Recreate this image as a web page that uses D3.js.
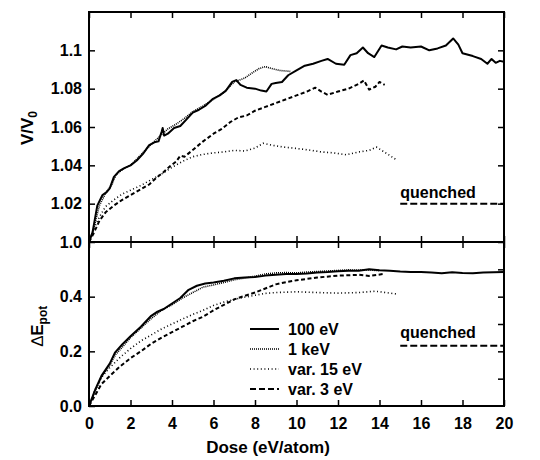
<!DOCTYPE html>
<html lang="en">
<head>
    <meta charset="UTF-8">
    <title>V/V0 and Delta E_pot vs dose</title>
    <script src="https://d3js.org/d3.v7.min.js"></script>
    <style>
        body { margin: 0; background: #fff; }
        text { font-family: "Liberation Sans", Arial, sans-serif; font-weight: bold; fill: #000; }
    </style>
</head>
<body>
    <svg width="540" height="460"></svg>

    <script>
        // ---- data (dose in eV/atom) ----
        // top panel: V/V0
        const vol100eV = [[0,1.0],[0.17,1.005],[0.4,1.019],[0.65,1.0245],[0.85,1.026],[1.0,1.028],[1.2,1.034],[1.45,1.037],[1.7,1.0385],[2.0,1.040],[2.3,1.0425],[2.6,1.046],[2.9,1.0505],[3.15,1.052],[3.35,1.0525],[3.5,1.0575],[3.55,1.0595],[3.62,1.0555],[3.8,1.0565],[4.1,1.0595],[4.4,1.0605],[4.7,1.064],[5.0,1.0675],[5.3,1.069],[5.6,1.071],[5.95,1.0745],[6.3,1.0765],[6.6,1.079],[6.9,1.0835],[7.1,1.0845],[7.3,1.082],[7.6,1.0805],[8.0,1.080],[8.3,1.079],[8.55,1.0785],[8.8,1.0825],[9.0,1.083],[9.3,1.0835],[9.6,1.087],[10.0,1.0895],[10.4,1.092],[10.8,1.093],[11.2,1.0945],[11.5,1.0955],[11.9,1.093],[12.3,1.0925],[12.6,1.0975],[12.9,1.0985],[13.2,1.1015],[13.45,1.0985],[13.75,1.0965],[14.1,1.1025],[14.4,1.1015],[14.8,1.1005],[15.1,1.102],[15.5,1.1015],[16.0,1.102],[16.4,1.1],[16.8,1.101],[17.2,1.1025],[17.55,1.1062],[17.8,1.103],[18.0,1.0985],[18.5,1.097],[18.9,1.0955],[19.2,1.093],[19.4,1.0955],[19.6,1.0935],[19.8,1.0945],[20,1.094]];
        const vol1keV = [[0,1.0],[0.2,1.006],[0.5,1.019],[0.8,1.0255],[1.1,1.030],[1.3,1.035],[1.7,1.0385],[2.0,1.040],[2.5,1.0455],[3.0,1.051],[3.4,1.055],[3.8,1.059],[4.2,1.0615],[4.6,1.0645],[5.0,1.068],[5.5,1.071],[6.0,1.0745],[6.5,1.078],[7.0,1.0835],[7.5,1.0855],[7.9,1.0885],[8.2,1.0905],[8.5,1.0915],[8.8,1.0905],[9.2,1.0895],[9.7,1.089]];
        const volVar15 = [[0,1.0],[0.2,1.006],[0.5,1.013],[0.8,1.0185],[1.2,1.022],[1.6,1.025],[2.0,1.027],[2.5,1.0295],[3.0,1.0325],[3.5,1.0355],[4.0,1.039],[4.5,1.042],[5.0,1.0445],[5.5,1.0457],[6.0,1.0465],[6.5,1.047],[7.0,1.0478],[7.5,1.0475],[8.0,1.049],[8.4,1.0515],[8.8,1.0505],[9.4,1.0495],[10.0,1.0488],[10.6,1.048],[11.2,1.047],[11.8,1.0465],[12.4,1.0455],[13.0,1.047],[13.5,1.0478],[13.85,1.0495],[14.3,1.0465],[14.8,1.043]];
        const volVar3 = [[0,1.0],[0.2,1.004],[0.5,1.011],[0.8,1.0155],[1.2,1.019],[1.6,1.022],[2.0,1.0245],[2.5,1.0275],[2.9,1.030],[3.3,1.034],[3.6,1.0365],[3.9,1.0395],[4.2,1.042],[4.4,1.045],[4.6,1.0445],[5.0,1.048],[5.5,1.0525],[6.0,1.0565],[6.4,1.059],[6.8,1.0625],[7.2,1.065],[7.6,1.066],[8.0,1.0685],[8.5,1.0705],[9.0,1.0725],[9.5,1.0745],[10.0,1.0765],[10.5,1.0785],[10.9,1.0805],[11.2,1.0785],[11.5,1.0768],[12.0,1.0785],[12.5,1.080],[13.0,1.0825],[13.25,1.0843],[13.5,1.0795],[13.8,1.081],[14.0,1.0835],[14.25,1.082]];

        // bottom panel: Delta E_pot
        const epot100eV = [[0,0],[0.3,0.06],[0.6,0.11],[1.0,0.155],[1.25,0.195],[1.6,0.225],[2.0,0.255],[2.5,0.29],[3.0,0.33],[3.3,0.345],[3.6,0.355],[4.0,0.375],[4.4,0.395],[4.8,0.425],[5.2,0.44],[5.6,0.448],[6.0,0.452],[6.5,0.458],[7.0,0.467],[7.5,0.47],[8.0,0.472],[8.5,0.477],[9.0,0.48],[9.5,0.483],[10.0,0.483],[10.5,0.485],[11.0,0.488],[11.5,0.49],[12.0,0.493],[12.5,0.495],[13.0,0.495],[13.5,0.5],[14.0,0.497],[14.5,0.495],[15.0,0.492],[15.5,0.49],[16.0,0.49],[16.5,0.488],[17.0,0.486],[17.5,0.489],[18.0,0.487],[18.5,0.486],[19.0,0.488],[19.5,0.489],[20,0.49]];
        const epot1keV = [[0,0],[0.3,0.055],[0.6,0.105],[1.0,0.15],[1.3,0.19],[1.6,0.215],[2.0,0.25],[2.5,0.285],[3.0,0.32],[3.5,0.35],[4.0,0.37],[4.5,0.395],[5.0,0.415],[5.5,0.435],[6.0,0.443],[6.5,0.452],[7.0,0.462],[7.5,0.468],[8.0,0.475],[8.5,0.483],[9.0,0.487],[9.5,0.488],[10.0,0.487],[10.5,0.49],[11.0,0.492],[11.5,0.494],[12.0,0.496],[12.5,0.498],[13.0,0.497],[13.5,0.498],[14.0,0.495]];
        const epotVar15 = [[0,0],[0.3,0.06],[0.6,0.105],[1.0,0.14],[1.5,0.178],[2.0,0.21],[2.5,0.238],[3.0,0.26],[3.5,0.282],[4.0,0.3],[4.5,0.318],[5.0,0.335],[5.5,0.35],[6.0,0.368],[6.5,0.38],[7.0,0.39],[7.5,0.398],[8.0,0.405],[8.5,0.412],[9.0,0.415],[10.0,0.418],[11.0,0.415],[12.0,0.413],[13.0,0.415],[13.8,0.42],[14.3,0.415],[14.8,0.41]];
        const epotVar3 = [[0,0],[0.3,0.04],[0.6,0.08],[1.0,0.11],[1.5,0.145],[2.0,0.175],[2.5,0.2],[3.0,0.228],[3.5,0.25],[4.0,0.27],[4.5,0.29],[5.0,0.31],[5.5,0.327],[6.0,0.35],[6.5,0.37],[7.0,0.39],[7.5,0.403],[8.0,0.415],[8.5,0.43],[9.0,0.445],[9.5,0.453],[10.0,0.46],[11.0,0.47],[12.0,0.477],[13.0,0.48],[13.5,0.476],[14.2,0.483]];

        // quenched reference levels
        const quenchedDose = [15, 20];
        const quenchedVol = 1.02;
        const quenchedEpot = 0.22;

        const seriesNames = ["100 eV", "1 keV", "var. 15 eV", "var. 3 eV"];
        const xTicks = [0, 2, 4, 6, 8, 10, 12, 14, 16, 18, 20];
        const volTicks = [1.0, 1.02, 1.04, 1.06, 1.08, 1.1];
        const epotTicks = [0.0, 0.2, 0.4];
        const epotMinorTicks = [0.1, 0.2, 0.3, 0.4, 0.5];

        // ---- layout ----
        const left = 89, right = 504;
        const topY = 12, midY = 242, botY = 406;
        const tick = 6;
        const fs = "16px";

        const styles = [
            { width: 2, dash: null },
            { width: 1.6, dash: "1,1" },
            { width: 1.6, dash: "1,2.6" },
            { width: 2, dash: "4,2.5" }
        ];

        const svg = d3.select("svg");

        const x = d3.scaleLinear().domain([0, 20]).range([left, right]);
        const yTop = d3.scaleLinear().domain([1.0, 1.12]).range([midY, topY]);
        const yBot = d3.scaleLinear().domain([0, 0.6]).range([botY, midY]);

        svg.append("defs").append("clipPath").attr("id", "clip")
            .append("rect").attr("x", left).attr("y", topY)
            .attr("width", right - left).attr("height", botY - topY);

        const plot = svg.append("g").attr("clip-path", "url(#clip)");

        function drawLines(data, yScale) {
            const line = d3.line().x(d => x(d[0])).y(d => yScale(d[1]));
            data.forEach((d, i) => {
                plot.append("path")
                    .datum(d)
                    .attr("fill", "none")
                    .attr("stroke", "#000")
                    .attr("stroke-width", styles[i].width)
                    .attr("stroke-dasharray", styles[i].dash)
                    .attr("stroke-linejoin", "round")
                    .attr("d", line);
            });
        }

        drawLines([vol100eV, vol1keV, volVar15, volVar3], yTop);
        drawLines([epot100eV, epot1keV, epotVar15, epotVar3], yBot);

        // quenched lines
        [[yTop, quenchedVol], [yBot, quenchedEpot]].forEach(([ys, v]) => {
            plot.append("line")
                .attr("x1", x(quenchedDose[0])).attr("x2", x(quenchedDose[1]))
                .attr("y1", ys(v)).attr("y2", ys(v))
                .attr("stroke", "#000").attr("stroke-width", 2)
                .attr("stroke-dasharray", "7,3");
        });
        svg.append("text").attr("x", x(quenchedDose[0])).attr("y", yTop(quenchedVol) - 6)
            .style("font-size", fs).text("quenched");
        svg.append("text").attr("x", x(quenchedDose[0])).attr("y", yBot(quenchedEpot) - 8)
            .style("font-size", fs).text("quenched");

        // ---- axes (ticks inward) ----
        function addAxis(axis, tx, ty, labels) {
            const g = svg.append("g").attr("transform", `translate(${tx},${ty})`).call(axis);
            g.select(".domain").remove();
            g.selectAll(".tick line").attr("stroke-width", 1.5);
            g.selectAll("text").style("font-size", fs).style("font-family", null);
            if (!labels) g.selectAll("text").remove();
            return g;
        }

        // x ticks
        addAxis(d3.axisBottom(x).tickValues(xTicks).tickSize(-tick).tickPadding(12), 0, botY, true);
        addAxis(d3.axisBottom(x).tickValues(xTicks).tickSize(-tick), 0, midY, false);
        addAxis(d3.axisBottom(x).tickValues(xTicks).tickSize(tick), 0, midY, false);
        addAxis(d3.axisTop(x).tickValues(xTicks).tickSize(-tick), 0, topY, false);

        // top y
        addAxis(d3.axisLeft(yTop).tickValues(volTicks).tickSize(-tick).tickPadding(7)
            .tickFormat(d => d3.format(".2~f")(d).replace(/^1$/, "1.0")), left, 0, true);
        addAxis(d3.axisRight(yTop).tickValues(volTicks).tickSize(-tick), right, 0, false);

        // bottom y
        addAxis(d3.axisLeft(yBot).tickValues(epotTicks).tickSize(-tick).tickPadding(7)
            .tickFormat(d3.format(".1f")), left, 0, true);
        addAxis(d3.axisRight(yBot).tickValues(epotMinorTicks).tickSize(-tick), right, 0, false);

        // frames
        [[topY, midY], [midY, botY]].forEach(([a, b]) => {
            svg.append("rect").attr("x", left).attr("y", a)
                .attr("width", right - left).attr("height", b - a)
                .attr("fill", "none").attr("stroke", "#000").attr("stroke-width", 2);
        });

        // ---- axis titles ----
        const vt = svg.append("text")
            .attr("transform", `translate(33,128) rotate(-90)`)
            .attr("text-anchor", "middle").style("font-size", "17px");
        vt.append("tspan").text("V/V");
        vt.append("tspan").attr("dy", 4).style("font-size", "12px").text("0");

        const et = svg.append("text")
            .attr("transform", `translate(43,326) rotate(-90)`)
            .attr("text-anchor", "middle").style("font-size", "17px");
        et.append("tspan").style("font-weight", "normal").text("\u2206");
        et.append("tspan").text("E");
        et.append("tspan").attr("dy", 4).style("font-size", "12px").text("pot");

        svg.append("text").attr("x", 268).attr("y", 453)
            .attr("text-anchor", "middle").style("font-size", "17px")
            .text("Dose (eV/atom)");

        // ---- legend ----
        const legend = svg.append("g").attr("transform", "translate(250,329)");
        seriesNames.forEach((name, i) => {
            const row = legend.append("g").attr("transform", `translate(0,${i * 20})`);
            row.append("line").attr("x1", 0).attr("x2", 29).attr("y1", 0).attr("y2", 0)
                .attr("stroke", "#000").attr("stroke-width", styles[i].width)
                .attr("stroke-dasharray", i === 3 ? "6,3" : styles[i].dash);
            row.append("text").attr("x", 38).attr("y", 6).style("font-size", fs).text(name);
        });
    </script>
</body>
</html>
